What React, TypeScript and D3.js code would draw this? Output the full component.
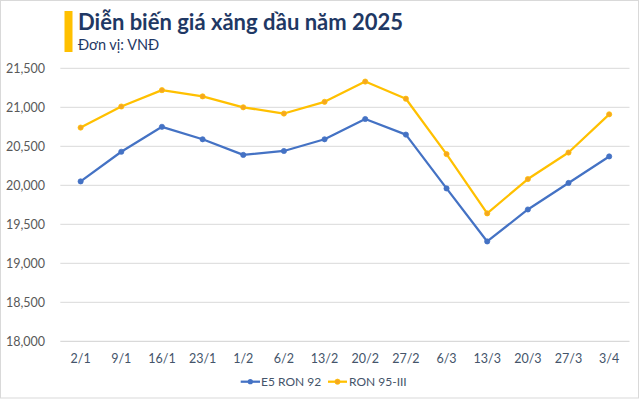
import React from "react";
import * as d3 from "d3";

const categories = ["2/1", "9/1", "16/1", "23/1", "1/2", "6/2", "13/2", "20/2", "27/2", "6/3", "13/3", "20/3", "27/3", "3/4"];
const e5Ron92 = [20050, 20430, 20750, 20590, 20390, 20440, 20590, 20850, 20650, 19960, 19280, 19690, 20030, 20370];
const ron95 = [20740, 21010, 21220, 21140, 21000, 20920, 21070, 21330, 21110, 20400, 19640, 20080, 20420, 20910];
const yTicks = [18000, 18500, 19000, 19500, 20000, 20500, 21000, 21500];

const W = 640;
const H = 399;
const plot = { left: 60.3, right: 629.5, top: 68.3, bottom: 341.3 };

export default function App() {
  const x = d3.scaleBand<string>().domain(categories).range([plot.left, plot.right]);
  const y = d3.scaleLinear().domain([18000, 21500]).range([plot.bottom, plot.top]);
  const cx = (c: string) => (x(c) as number) + x.bandwidth() / 2;
  const line = d3
    .line<number>()
    .x((_, i) => cx(categories[i]))
    .y((d) => y(d));
  const fmt = d3.format(",");
  const font = "Lato, 'Liberation Sans', sans-serif";
  const series = [
    { name: "E5 RON 92", data: e5Ron92, color: "#4472C4", fill: "#4472C4" },
    { name: "RON 95-III", data: ron95, color: "#FFC000", fill: "#F5A623" },
  ];
  return (
    <div style={{ position: "absolute", left: 0, top: 0 }}>
      <svg width={W} height={H} style={{ display: "block" }}>
        <rect x={0} y={0} width={W} height={H} fill="#ffffff" />
        <rect x={0.5} y={0.5} width={638} height={397.5} fill="none" stroke="#d9d9d9" />
        <rect x={64.5} y={11} width={8} height={41} fill="#FFC000" />
        <text x={78} y={30} fontFamily={font} fontWeight={700} fontSize={22} fill="#1F3864">
          Diễn biến giá xăng dầu năm 2025
        </text>
        <text x={78} y={50} fontFamily={font} fontSize={14.5} fill="#1F3864">
          Đơn vị: VNĐ
        </text>
        {yTicks.map((t) => (
          <g key={t}>
            <line x1={plot.left} x2={plot.right} y1={y(t)} y2={y(t)} stroke={t === 18000 ? "#d0d0d0" : "#d9d9d9"} strokeWidth={1} />
            <text x={45} y={y(t)} dy="0.35em" textAnchor="end" fontFamily={font} fontSize={12.5} fill="#595959">
              {fmt(t)}
            </text>
          </g>
        ))}
        {categories.map((c) => (
          <text key={c} x={cx(c)} y={362.5} textAnchor="middle" fontFamily={font} fontSize={12.5} fill="#44546A">
            {c}
          </text>
        ))}
        {series.map((s) => (
          <g key={s.name}>
            <path d={line(s.data) || ""} fill="none" stroke={s.color} strokeWidth={2.25} strokeLinejoin="round" />
            {s.data.map((v, i) => (
              <circle key={i} cx={cx(categories[i])} cy={y(v)} r={2.6} fill={s.fill} stroke={s.color} strokeWidth={0.75} />
            ))}
          </g>
        ))}
        <g fontFamily={font} fontSize={12} fill="#44546A">
          <line x1={240.7} x2={260} y1={381.7} y2={381.7} stroke="#4472C4" strokeWidth={2.25} />
          <circle cx={250.3} cy={381.7} r={2.6} fill="#4472C4" />
          <text x={261} y={381.7} dy="0.35em">E5 RON 92</text>
          <line x1={328} x2={347} y1={381.7} y2={381.7} stroke="#FFC000" strokeWidth={2.25} />
          <circle cx={337.5} cy={381.7} r={2.6} fill="#F5A623" stroke="#FFC000" strokeWidth={0.75} />
          <text x={349} y={381.7} dy="0.35em">RON 95-III</text>
        </g>
      </svg>
    </div>
  );
}
